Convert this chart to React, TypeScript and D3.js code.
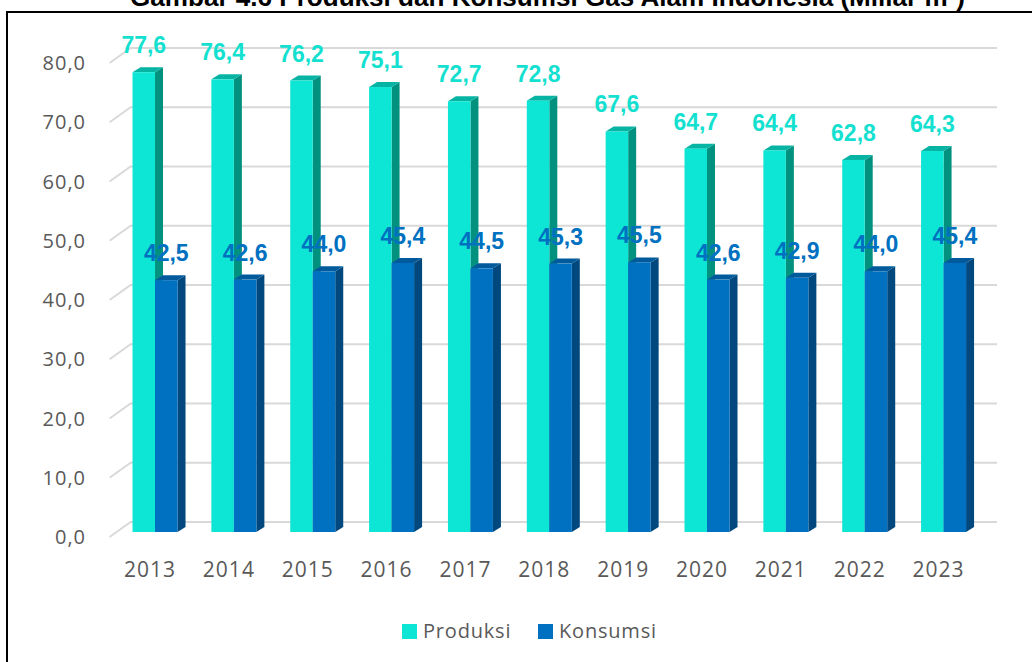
import React from "react";
import * as d3 from "d3";

const years = ["2013","2014","2015","2016","2017","2018","2019","2020","2021","2022","2023"];
const produksi = [77.6, 76.4, 76.2, 75.1, 72.7, 72.8, 67.6, 64.7, 64.4, 62.8, 64.3];
const konsumsi = [42.5, 42.6, 44.0, 45.4, 44.5, 45.3, 45.5, 42.6, 42.9, 44.0, 45.4];
const yTicks = [0, 10, 20, 30, 40, 50, 60, 70, 80];
const seriesNames = ["Produksi", "Konsumsi"];
const title = "Gambar 4.6 Produksi dan Konsumsi Gas Alam Indonesia (Miliar m³)";

const W = 1032, H = 662;
const fmt = (v: number) => v.toFixed(1).replace(".", ",");

const palette = [
  { front: "#0de6d5", side: "#03917f", top: "#07b3a3", text: "#14e0d0" },
  { front: "#0070c0", side: "#00487d", top: "#005a9c", text: "#0070c0" },
];

export default function App() {
  const x = d3.scaleBand<string>().domain(years).range([110.6, 978]).padding(0);
  const y = d3.scaleLinear().domain([0, 80]).range([537, 63]);
  const gridDx = 21, gridDy = -15;
  const barOff = { dx: 5, dy: -5 };
  const barDepth = { dx: 8, dy: -5 };
  const barW = 22.5;
  const series = [produksi, konsumsi];

  const bars: JSX.Element[] = [];
  const labels: JSX.Element[] = [];
  years.forEach((yr, i) => {
    const cx = (x(yr) as number) + x.bandwidth() / 2 + barOff.dx;
    series.forEach((vals, s) => {
      const v = vals[i];
      const x0 = cx - barW + s * barW;
      const x1 = x0 + barW;
      const yb = y(0) + barOff.dy;
      const yt = y(v) + barOff.dy;
      const c = palette[s];
      const { dx, dy } = barDepth;
      bars.push(
        <g key={`b${s}-${i}`}>
          <polygon points={`${x1},${yt} ${x1 + dx},${yt + dy} ${x1 + dx},${yb + dy} ${x1},${yb}`} fill={c.side} />
          <polygon points={`${x0},${yt} ${x0 + dx},${yt + dy} ${x1 + dx},${yt + dy} ${x1},${yt}`} fill={c.top} />
          <rect x={x0} y={yt} width={barW} height={yb - yt} fill={c.front} />
        </g>
      );
      labels.push(
        <text key={`l${s}-${i}`} x={(x0 + x1) / 2} y={yt - 19} textAnchor="middle"
          fontFamily="'Liberation Sans', Arial, sans-serif" fontWeight="bold" fontSize={23}
          fill={c.text}>{fmt(v)}</text>
      );
    });
  });

  return (
    <svg width={W} height={H} style={{ position: "absolute", left: 0, top: 0, background: "#fff" }}>
      <text x={130} y={6} fontFamily="'Liberation Sans', Arial, sans-serif"
        fontWeight="bold" fontSize={25} textLength={835} lengthAdjust="spacingAndGlyphs" fill="#000">{title}</text>
      <rect x={7} y={12} width={W + 20} height={H + 20} fill="none" stroke="#000" strokeWidth={2} />
      {yTicks.map((t) => (
        <g key={t}>
          <polyline points={`${x.range()[0] - 1},${y(t)} ${x.range()[0] - 1 + gridDx},${y(t) + gridDy} 997,${y(t) + gridDy}`}
            fill="none" stroke="#d9d9d9" strokeWidth={2} />
          <text x={86} y={y(t) + 7} textAnchor="end" fontFamily="'Open Sans', sans-serif"
            fontSize={20} letterSpacing={1} fill="#595959">{fmt(t)}</text>
        </g>
      ))}
      {bars}
      {labels}
      {years.map((yr) => (
        <text key={yr} x={(x(yr) as number) + x.bandwidth() / 2} y={577} textAnchor="middle"
          fontFamily="'Open Sans', sans-serif" fontSize={21} letterSpacing={1} fill="#595959">{yr}</text>
      ))}
      {seriesNames.map((n, s) => {
        const lx = s === 0 ? 402 : 538;
        return (
          <g key={n}>
            <rect x={lx} y={624} width={15} height={15} fill={palette[s].front} />
            <text x={lx + 21} y={638} fontFamily="'Open Sans', sans-serif" fontSize={20}
              letterSpacing={0.8} fill="#595959">{n}</text>
          </g>
        );
      })}
    </svg>
  );
}
